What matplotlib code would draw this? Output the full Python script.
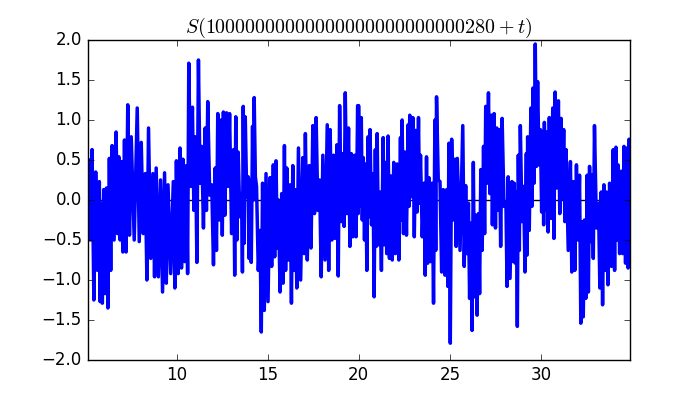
import matplotlib
matplotlib.use("Agg")
import matplotlib.pyplot as plt
import numpy as np

plt.style.use("classic")

title_text = r"$S(10000000000000000000000000280+t)$"

# t position of each visible stroke group, with its high and low value
t_vals = [
    5.17, 5.36, 5.56, 5.76, 5.85, 6.00, 6.15, 6.31, 6.46, 6.68, 6.83, 6.96, 7.14, 7.32, 7.51, 7.84,
    8.06, 8.28, 8.46, 8.70, 8.88, 9.12, 9.34, 9.53, 9.82, 9.99, 10.19, 10.35, 10.54, 10.67, 10.87,
    11.03, 11.20, 11.38, 11.57, 11.71, 11.93, 12.12, 12.26, 12.45,
    12.57, 12.74, 12.91, 13.13, 13.25, 13.38, 13.57, 13.66, 13.77, 13.93, 14.03, 14.17, 14.26, 14.39,
    14.58, 14.72, 14.91, 15.13, 15.31, 15.46, 15.59, 15.77, 15.92, 16.05, 16.23, 16.38, 16.51, 16.69,
    16.93, 17.07, 17.28, 17.48, 17.66, 17.85, 18.03, 18.27, 18.43, 18.62, 18.80, 18.95, 19.13, 19.26,
    19.44, 19.59, 19.77, 19.94,
    19.99, 20.14, 20.25, 20.38, 20.51, 20.62, 20.78, 20.91, 21.01, 21.15, 21.34, 21.46, 21.61, 21.76,
    21.92, 22.11, 22.29, 22.38, 22.53, 22.71, 22.80, 22.97, 23.13, 23.28, 23.39, 23.58, 23.72, 23.85,
    24.03, 24.18, 24.27, 24.46, 24.64, 24.83, 24.95, 25.10, 25.28, 25.41, 25.71, 25.87, 26.02, 26.15,
    26.29, 26.42, 26.57, 26.70, 26.85, 26.97, 27.12, 27.27, 27.40,
    27.43, 27.58, 27.71, 27.87, 28.08, 28.20, 28.41, 28.54, 28.65, 28.76, 28.87, 29.05, 29.20, 29.27,
    29.45, 29.56, 29.69, 29.82, 29.97, 30.11, 30.19, 30.33, 30.46, 30.65, 30.78, 30.96, 31.11, 31.25,
    31.38, 31.62, 31.77, 31.95, 32.12, 32.26, 32.39, 32.54, 32.67, 32.81, 32.94, 33.16, 33.31, 33.46,
    33.59, 33.77, 33.97, 34.12, 34.23, 34.41, 34.56, 34.73, 34.84,
]

high_vals = [
    0.50, 0.63, 0.35, 0.23, -0.04, 0.13, 0.15, 0.52, 0.68, 0.85, 0.54, 0.48, 0.75, 1.19, 0.79, 1.15,
    0.72, 0.33, 0.90, 0.33, 0.40, 0.25, 0.34, 0.19, 0.23, 0.49, 0.65, 0.51, 0.43, 1.71, 1.16,
    0.79, 1.75, 0.67, 0.90, 1.23, 0.19, 0.40, 1.08, 1.00,
    1.10, 1.09, 1.08, 0.63, 1.04, 0.60, 0.08, 1.17, 1.04, 0.29, 0.25, 0.92, 1.28, 0.17,
    -0.38, 0.21, 0.33, 0.28, 0.44, 0.49, 0.00, 0.08, 0.68, 0.40, 0.19, 0.43, 0.13, 0.65,
    0.53, 0.83, 0.43, 0.93, 1.03, 0.25, 0.56, 0.94, 0.88, 0.56, 0.69, 1.18, 0.58, 1.34,
    0.90, 0.58, 0.56, 1.18,
    1.18, 1.03, 0.53, 0.45, 0.79, 0.88, 0.33, 0.63, 0.83, 0.10, 0.78, 0.47, 0.80, 0.30,
    0.47, 0.45, 0.78, 1.00, 0.60, 0.94, 1.06, 1.03, 0.87, 1.03, 0.56, 0.21, 0.54, 0.28,
    0.21, 1.00, 1.29, 0.23, 0.13, 0.13, 0.71, 0.76, 0.51, 0.52, 0.93, 0.18, -0.04, -0.29,
    0.47, -0.19, -0.17, 0.38, 0.67, 1.17, 1.34, 1.06, 0.69,
    1.08, 0.90, 0.88, 1.02, -0.04, 0.29, 0.23, 0.21, 0.10, 0.56, 0.93, 0.17, 0.58, 0.79,
    1.15, 1.40, 1.95, 1.48, 0.88, 0.85, 0.97, 0.85, 1.03, 1.15, 1.35, 1.24, 1.02, 0.88,
    0.63, 0.48, 0.23, 0.44, 0.31, -0.27, -0.25, 0.31, 0.42, 0.31, 0.93, -0.04, 0.10, 0.19,
    0.10, 0.21, 0.63, 0.66, 0.44, 0.36, 0.67, 0.65, 0.76,
]

low_vals = [
    -0.50, -1.25, -0.88, -1.27, -1.29, -1.17, -1.35, -0.88, -0.50, -0.42, -0.50, -0.65, -0.65, -0.44, -0.50, -0.52,
    -0.42, -1.00, -0.73, -0.96, -0.96, -1.15, -1.04, -0.92, -1.10, -0.92, -0.85, -0.77, -0.92, 0.17, -0.13,
    -0.78, 0.21, -0.35, -0.13, 0.06, -0.81, -0.63, -0.25, -0.44,
    -0.19, 0.17, -0.42, -0.94, -0.50, -0.21, -0.90, -0.54, 0.04, -0.73, -0.78, 0.00, 0.29, -0.88,
    -1.65, -1.38, -1.27, -0.83, -0.71, -0.60, -1.15, -1.04, -0.88, -0.75, -1.29, -0.88, -1.10, -1.00,
    -0.67, -0.75, -0.60, -0.17, -0.13, -0.96, -0.75, -0.88, -0.50, -0.48, -0.95, -0.27, -0.33, -0.17,
    -0.58, -0.46, -0.46, -0.17,
    -0.08, -0.25, -0.50, -0.88, -0.21, -0.31, -1.21, -0.58, -0.56, -0.88, -0.56, -0.67, -0.73, -0.75,
    -0.67, -0.75, -0.25, -0.42, -0.44, -0.08, 0.04, -0.46, -0.15, -0.04, -0.46, -0.94, -0.79, -0.77,
    -1.29, -0.63, 0.25, -0.90, -0.94, -1.08, -1.79, -0.25, -0.58, -0.63, -0.83, -0.67, -1.23, -1.63,
    -1.21, -1.44, -1.17, -0.63, -0.42, 0.21, 0.08, -0.31, -0.08,
    -0.35, -0.13, -0.58, -0.08, -1.08, -0.98, -0.77, -0.79, -1.58, -0.63, -0.27, -0.90, -0.69, -0.38,
    -0.08, 0.21, 0.42, 0.44, -0.15, -0.31, -0.13, -0.40, -0.23, -0.48, 0.15, -0.17, 0.02, -0.27,
    -0.63, -0.90, -0.88, -0.50, -1.54, -1.46, -1.23, -1.15, -0.52, -0.73, -0.35, -1.10, -1.31, -0.88,
    -1.06, -0.83, -0.88, -0.50, -0.67, -0.67, -0.79, -0.85, -0.33,
]

t_arr = np.array(t_vals)
steps = np.diff(np.append(t_arr, t_arr[-1] + 0.15))
xs = np.empty(2 * len(t_arr))
ys = np.empty(2 * len(t_arr))
xs[0::2] = t_arr
xs[1::2] = t_arr + 0.5 * steps
ys[0::2] = high_vals
ys[1::2] = low_vals

fig = plt.figure(figsize=(7, 4), dpi=100)
ax = fig.add_axes([0.125, 0.1, 0.775, 0.8])
ax.axhline(0, color="black", linewidth=1, zorder=1)
ax.plot(xs, ys, color="blue", linewidth=2.5, zorder=2)
ax.set_xlim(5.11, 34.89)
ax.set_ylim(-2, 2)
ax.set_xticks([10, 15, 20, 25, 30])
ax.set_yticks(np.arange(-2.0, 2.01, 0.5))
ax.set_title(title_text)
fig.savefig("out.png", dpi=100)
